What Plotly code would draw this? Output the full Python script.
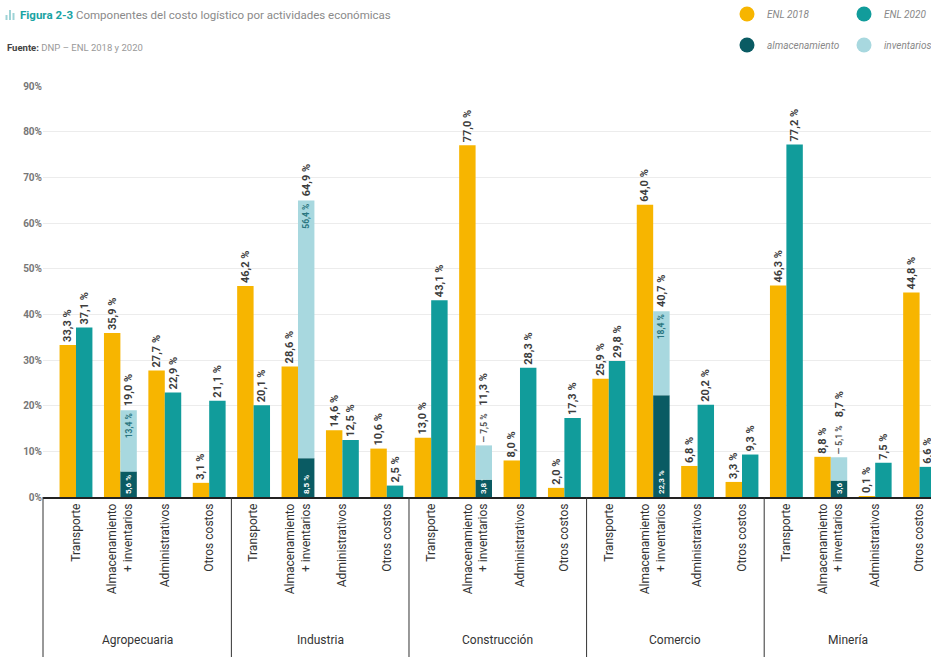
import plotly.graph_objects as go

# ---------------- data ----------------
sectors = ["Agropecuaria", "Industria", "Construcción", "Comercio", "Minería"]
components = ["Transporte", "Almacenamiento<br>+ inventarios", "Administrativos", "Otros costos"]

enl_2018 = [33.3, 35.9, 27.7, 3.1,
            46.2, 28.6, 14.6, 10.6,
            13.0, 77.0, 8.0, 2.0,
            25.9, 64.0, 6.8, 3.3,
            46.3, 8.8, 0.1, 44.8]
enl_2020 = [37.1, 19.0, 22.9, 21.1,
            20.1, 64.9, 12.5, 2.5,
            43.1, 11.3, 28.3, 17.3,
            29.8, 40.7, 20.2, 9.3,
            77.2, 8.7, 7.5, 6.6]
almacenamiento = [5.6, 8.5, 3.8, 22.3, 3.6]
inventarios = [13.4, 56.4, 7.5, 18.4, 5.1]
y_ticks = [0, 10, 20, 30, 40, 50, 60, 70, 80, 90]

# ---------------- style ----------------
YELLOW = "#F7B500"
TEAL = "#119C9B"
DARK = "#0A5B63"
LIGHT = "#A8D8DF"
FONT = "Roboto"
W, H = 931, 657
ML, MR, MT, MB = 43, 0, 86, 160
BW = 0.37

n_comp = len(components)
idx = list(range(len(sectors) * n_comp))
ticktext = components * len(sectors)
x_min, x_max = -0.743, 19.257


def fmt(v):
    return f"{v:.1f}".replace(".", ",") + " %"


def px_x(p):
    return (p - ML) / (W - ML - MR)


def px_y(p):
    return (H - MB - p) / (H - MB - MT)


alm_x = [i for i in idx if i % n_comp == 1]
oth_x = [i for i in idx if i % n_comp != 1]

LABEL_FONT = dict(family=FONT, size=11, color="#3d3d3d", weight="bold")

fig = go.Figure()

fig.add_trace(go.Bar(
    x=idx, y=enl_2018, width=BW, offset=-BW, marker=dict(color=YELLOW, line=dict(width=0)),
    text=[fmt(v) for v in enl_2018], textposition="outside", textangle=-90,
    constraintext="none", textfont=LABEL_FONT,
    cliponaxis=False, showlegend=False, name="ENL 2018"))

fig.add_trace(go.Bar(
    x=oth_x, y=[enl_2020[i] for i in oth_x], width=BW, offset=0,
    marker=dict(color=TEAL, line=dict(width=0)),
    text=[fmt(enl_2020[i]) for i in oth_x], textposition="outside", textangle=-90,
    constraintext="none", textfont=LABEL_FONT,
    cliponaxis=False, showlegend=False, name="ENL 2020"))

fig.add_trace(go.Bar(
    x=alm_x, y=almacenamiento, width=BW, offset=0,
    marker=dict(color=DARK, line=dict(width=0)),
    text=[fmt(v) for v in almacenamiento], textposition="inside", textangle=-90,
    insidetextanchor="start", constraintext="none",
    textfont=dict(family=FONT, size=8, color="white", weight="bold"),
    showlegend=False, name="almacenamiento"))

fig.add_trace(go.Bar(
    x=alm_x, y=inventarios, base=almacenamiento, width=BW, offset=0,
    marker=dict(color=LIGHT, line=dict(width=0)),
    text=[fmt(v) if v >= 10 else "— " + fmt(v) for v in inventarios],
    textposition=["inside" if v >= 10 else "outside" for v in inventarios],
    textangle=-90, insidetextanchor="end", constraintext="none",
    insidetextfont=dict(family=FONT, size=8.5, color="#2a7680", weight="bold"),
    outsidetextfont=dict(family=FONT, size=8.5, color="#555", weight="bold"),
    cliponaxis=False, showlegend=False, name="inventarios"))

# legend entries (circle markers)
for name, col, lg in [("ENL 2018", YELLOW, "legend"), ("ENL 2020", TEAL, "legend"),
                      ("almacenamiento", DARK, "legend2"), ("inventarios", LIGHT, "legend2")]:
    fig.add_trace(go.Scatter(x=[None], y=[None], mode="markers", name=name,
                             marker=dict(color=col, size=15, symbol="circle"),
                             legend=lg, showlegend=True))

annotations = []
# totals of stacked bars
for k, xi in enumerate(alm_x):
    annotations.append(dict(
        x=xi + BW / 2, y=enl_2020[xi], xref="x", yref="y", text=fmt(enl_2020[xi]),
        textangle=-90, showarrow=False, yanchor="bottom", xanchor="center",
        yshift=2 if inventarios[k] >= 10 else 38,
        font=LABEL_FONT))

# sector labels
bounds = [x_min] + [n_comp * (k + 1) - 0.5 for k in range(len(sectors) - 1)] + [x_max]
for k, s in enumerate(sectors):
    annotations.append(dict(
        x=(bounds[k] + bounds[k + 1]) / 2, y=px_y(640), xref="x", yref="paper", text=s,
        showarrow=False, xanchor="center", yanchor="middle",
        font=dict(family=FONT, size=12, color="#333")))

annotations.append(dict(
    x=px_x(5), y=px_y(47), xref="paper", yref="paper",
    text="<b>Fuente:</b> <span style='color:#999'>DNP – ENL 2018 y 2020</span>",
    showarrow=False, xanchor="left", yanchor="middle",
    font=dict(family=FONT, size=9.5, color="#444")))

shapes = []
for b in bounds[1:-1]:
    shapes.append(dict(type="line", xref="x", yref="paper", x0=b, x1=b, y0=0, y1=px_y(H + 5),
                       line=dict(color="#333", width=1)))
shapes.append(dict(type="line", xref="paper", yref="paper", x0=0, x1=0, y0=0, y1=px_y(H + 5),
                   line=dict(color="#333", width=1)))
# small chart icon next to the title
for (a, b, top) in [(5.5, 7.5, 15), (9, 11, 10), (12.5, 14.5, 13)]:
    shapes.append(dict(type="rect", xref="paper", yref="paper", x0=px_x(a), x1=px_x(b),
                       y0=px_y(20), y1=px_y(top), line=dict(width=0), fillcolor="#9ed3d6"))

LEG_X = px_x(727)
fig.update_layout(
    width=W, height=H,
    margin=dict(l=ML, r=MR, t=MT, b=MB, autoexpand=False),
    paper_bgcolor="white", plot_bgcolor="white",
    barmode="overlay",
    font=dict(family=FONT),
    title=dict(
        text="<b><span style='color:#1aa3a3'>Figura 2-3</span></b> Componentes del costo logístico por actividades económicas",
        x=20 / W, y=1 - 15 / H, xref="container", yref="container",
        xanchor="left", yanchor="middle",
        font=dict(family=FONT, size=11.5, color="#8a8a8a")),
    xaxis=dict(range=[x_min, x_max], tickmode="array", tickvals=idx, ticktext=ticktext,
               tickangle=-90, showgrid=False, zeroline=False, automargin=False,
               showline=True, linecolor="#222", linewidth=1.5, ticks="",
               tickfont=dict(family=FONT, size=12, color="#333")),
    yaxis=dict(range=[0, 90], tickmode="array", tickvals=y_ticks, automargin=False,
               ticktext=[f"{v}%" for v in y_ticks], showgrid=True, gridcolor="#ececec",
               zeroline=False, showline=False, ticks="",
               tickfont=dict(family=FONT, size=10, color="#777", weight="bold")),
    legend=dict(orientation="h", x=LEG_X, y=px_y(14), xanchor="left", yanchor="middle",
                entrywidth=72, itemwidth=30, bgcolor="rgba(0,0,0,0)",
                font=dict(family=FONT, size=10, color="#888", style="italic")),
    legend2=dict(orientation="h", x=LEG_X, y=px_y(45), xanchor="left", yanchor="middle",
                 entrywidth=72, itemwidth=30, bgcolor="rgba(0,0,0,0)",
                 font=dict(family=FONT, size=10, color="#888", style="italic")),
    annotations=annotations,
    shapes=shapes,
)

fig.write_html("out.html", config={"displayModeBar": False},
               post_script="document.body.style.margin='0';")
